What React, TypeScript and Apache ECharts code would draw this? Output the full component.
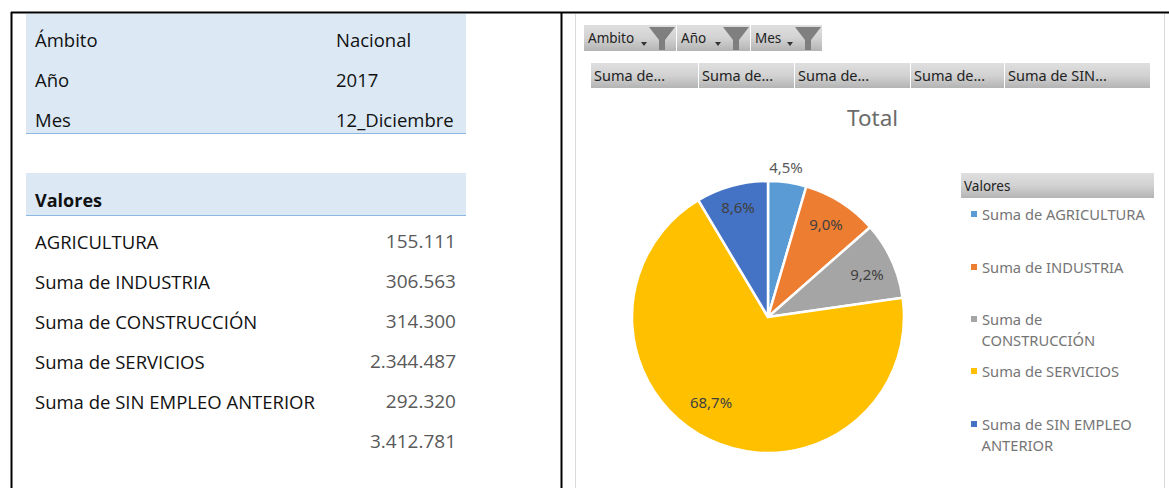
import React, { useEffect, useRef } from "react";
import * as echarts from "echarts";

const filterRows = [["Ámbito", "Nacional"], ["Año", "2017"], ["Mes", "12_Diciembre"]];
const tableLabels = ["AGRICULTURA", "Suma de INDUSTRIA", "Suma de CONSTRUCCIÓN", "Suma de SERVICIOS", "Suma de SIN EMPLEO ANTERIOR"];
const tableValues = ["155.111", "306.563", "314.300", "2.344.487", "292.320", "3.412.781"];
const categories = ["Suma de AGRICULTURA", "Suma de INDUSTRIA", "Suma de CONSTRUCCIÓN", "Suma de SERVICIOS", "Suma de SIN EMPLEO ANTERIOR"];
const values = [155111, 306563, 314300, 2344487, 292320];
const percentLabels = ["4,5%", "9,0%", "9,2%", "68,7%", "8,6%"];
const colors = ["#5B9BD5", "#ED7D31", "#A5A5A5", "#FFC000", "#4472C4"];
const legendFirstLines = ["Suma de AGRICULTURA", "Suma de INDUSTRIA", "Suma de", "Suma de SERVICIOS", "Suma de SIN EMPLEO"];
const legendSecondLines = ["", "", "CONSTRUCCIÓN", "", "ANTERIOR"];
const filterButtons = ["Ambito", "Año", "Mes"];
const columnHeaders = ["Suma de...", "Suma de...", "Suma de...", "Suma de...", "Suma de SIN..."];

const LEGEND_TOPS = [214, 267, 319, 371, 424];
const LABEL_POS = [[786, 167], [826, 224], [867, 274], [711, 402], [738, 207]];
const BTN_X = [[584, 676], [677, 750], [751, 822]];
const COL_X = [[591, 698], [699, 794], [795, 910], [911, 1004], [1005, 1150]];
const FONT = "'Open Sans', sans-serif";
const UI = "'Noto Sans', sans-serif";

const grad = () => new echarts.graphic.LinearGradient(0, 0, 0, 1, [
  { offset: 0, color: "#DFDFDF" },
  { offset: 0.5, color: "#D2D2D2" },
  { offset: 1, color: "#B4B4B4" },
]);
const rect = (x: number, y: number, w: number, h: number, fill: any) => ({
  type: "rect", shape: { x, y, width: w, height: h }, style: { fill }, silent: true,
});
const text = (x: number, y: number, t: string, o: any = {}) => ({
  type: "text", x, y, silent: true,
  style: { text: t, fill: "#111", font: `18.5px ${FONT}`, verticalAlign: "middle", ...o },
});

function buildGraphics() {
  const g: any[] = [];
  g.push({ type: "line", shape: { x1: 575.5, y1: 14, x2: 575.5, y2: 488 }, style: { stroke: "#D9D9D9", lineWidth: 1 }, silent: true });
  g.push({ type: "line", shape: { x1: 1164.5, y1: 14, x2: 1164.5, y2: 488 }, style: { stroke: "#D9D9D9", lineWidth: 1 }, silent: true });
  g.push({ type: "line", shape: { x1: 11, y1: 12.5, x2: 1169, y2: 12.5 }, style: { stroke: "#000", lineWidth: 2 }, silent: true });
  g.push({ type: "line", shape: { x1: 11.5, y1: 12, x2: 11.5, y2: 488 }, style: { stroke: "#000", lineWidth: 2 }, silent: true });
  g.push({ type: "line", shape: { x1: 561.5, y1: 12, x2: 561.5, y2: 488 }, style: { stroke: "#000", lineWidth: 2 }, silent: true });
  g.push(rect(26, 14, 440, 119, "#DCE9F5"));
  g.push(rect(26, 133, 440, 1, "#8DB8E4"));
  g.push(rect(26, 173, 440, 42, "#DCE9F5"));
  g.push(rect(26, 215, 440, 1, "#8DB8E4"));
  filterRows.forEach(([a, b], i) => {
    g.push(text(35, 39 + i * 40, a));
    g.push(text(336, 39 + i * 40, b));
  });
  g.push(text(35, 200, "Valores", { font: `bold 18px ${FONT}` }));
  tableLabels.forEach((t, i) => g.push(text(35, 241 + i * 40, t)));
  tableValues.forEach((t, i) => g.push(text(456, 241 + i * 40, t, { fill: "#595959", align: "right", font: `19px ${FONT}` })));
  filterButtons.forEach((t, i) => {
    const [x0, x1] = BTN_X[i];
    g.push(rect(x0, 25, x1 - x0, 26, grad()));
    g.push(text(x0 + 4, 38, t, { font: `13.5px ${UI}`, fill: "#222" }));
    const fx = x1 - 30;
    g.push({ type: "polygon", silent: true, shape: { points: [[fx + 3, 27], [fx + 29, 27], [fx + 19, 40], [fx + 19, 50], [fx + 13, 50], [fx + 13, 40]] }, style: { fill: "#7F7F7F" } });
    g.push({ type: "polygon", silent: true, shape: { points: [[fx - 5, 42], [fx + 1, 42], [fx - 2, 46]] }, style: { fill: "#333" } });
  });
  columnHeaders.forEach((t, i) => {
    const [x0, x1] = COL_X[i];
    g.push(rect(x0, 63, x1 - x0, 25, grad()));
    g.push(text(x0 + 3, 74.5, t, { font: `14.5px ${UI}`, fill: "#222" }));
  });
  g.push(rect(961, 173, 193, 25, grad()));
  g.push(text(964, 186, "Valores", { font: `13.5px ${UI}`, fill: "#222" }));
  legendSecondLines.forEach((t, i) => {
    if (t) g.push(text(981.5, LEGEND_TOPS[i] + 21, t, { font: `14.7px ${UI}`, fill: "#757575" }));
  });
  return g;
}

export default function App() {
  const ref = useRef<HTMLDivElement>(null);
  useEffect(() => {
    document.body.style.margin = "0";
    const chart = echarts.init(ref.current!, null, { renderer: "svg" });
    chart.setOption({
      animation: false,
      backgroundColor: "#fff",
      color: colors,
      title: {
        text: "Total", left: 847, top: 106, padding: 0,
        textStyle: { fontFamily: UI, fontSize: 22.5, fontWeight: "normal", color: "#6B6B6B" },
      },
      legend: categories.map((c, i) => ({
        data: [c], orient: "vertical", left: 969, top: LEGEND_TOPS[i] - 10, selectedMode: false,
        icon: "rect", itemWidth: 8, itemHeight: 8, itemGap: 0, padding: 0, height: 20,
        formatter: () => legendFirstLines[i],
        textStyle: { fontFamily: UI, fontSize: 14.7, color: "#757575", padding: [0, 0, 0, -1], lineHeight: 20 },
      })),
      graphic: { elements: buildGraphics() },
      series: [{
        type: "pie", center: [768, 317], radius: [0, 136], startAngle: 90, clockwise: true,
        minAngle: 0, silent: true, z: 5,
        itemStyle: { borderColor: "#fff", borderWidth: 2.5 },
        labelLine: { show: false },
        labelLayout: (p: any) => ({
          x: LABEL_POS[p.dataIndex][0], y: LABEL_POS[p.dataIndex][1], align: "center", verticalAlign: "middle",
        }),
        data: categories.map((name, i) => ({
          name, value: values[i],
          label: {
            show: true, position: "inside", formatter: () => percentLabels[i],
            fontFamily: UI, fontSize: 15, color: i === 0 ? "#595959" : "#404040",
          },
        })),
      }],
    });
    return () => chart.dispose();
  }, []);
  return <div ref={ref} style={{ width: 1169, height: 488 }} />;
}
